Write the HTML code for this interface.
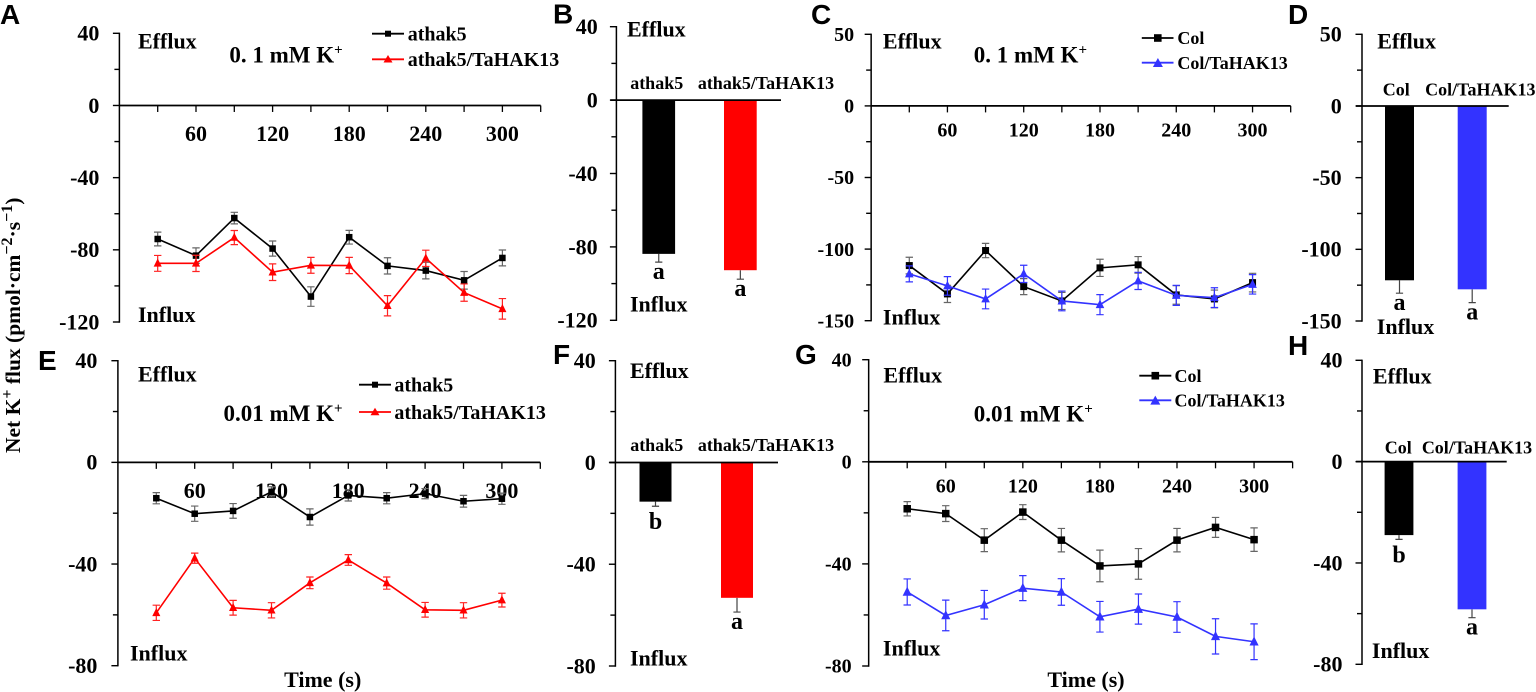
<!DOCTYPE html>
<html lang="en">
<head>
<meta charset="utf-8">
<title>Net K+ flux panels</title>
<style>
html,body{margin:0;padding:0;background:#fff;width:1536px;height:692px;overflow:hidden}
svg{display:block}
text{font-family:"Liberation Serif",serif;font-weight:700;fill:#000}
.plabel{font-family:"Liberation Sans",sans-serif;font-size:28px}
.note{font-size:22px}
.conc{font-size:23px}
.leg{font-size:20px}
.legs{font-size:18px}
.cat{font-size:18px}
</style>
</head>
<body>
<svg id="figure" width="1536" height="692" viewBox="0 0 1536 692" xmlns="http://www.w3.org/2000/svg">
  <text transform="translate(20,453) rotate(-90)" font-size="21.5">Net K<tspan dy="-8" font-size="16">+</tspan><tspan dy="8"> flux (pmol·cm</tspan><tspan dy="-8" font-size="16">−2</tspan><tspan dy="8">·s</tspan><tspan dy="-8" font-size="16">−1</tspan><tspan dy="8">)</tspan></text>

  <g id="panel-a">
    <text class="plabel" x="0" y="24">A</text>
    <text class="note" x="138" y="48.5">Efflux</text>
    <text class="note" x="138" y="322">Influx</text>
    <text class="conc" x="229.4" y="62.5">0. 1 mM K<tspan dy="-8" font-size="15">+</tspan></text>
    <g>
      <line x1="372" x2="404" y1="33.7" y2="33.7" stroke="#000" stroke-width="1.8"/>
      <rect x="385" y="30.7" width="6" height="6" fill="#000"/>
      <text class="leg" x="407.7" y="40.5">athak5</text>
      <line x1="372" x2="404" y1="59.3" y2="59.3" stroke="#f00" stroke-width="1.8"/>
      <polygon points="388,55 392.5,62.5 383.5,62.5" fill="#f00"/>
      <text class="leg" x="407.7" y="66">athak5/TaHAK13</text>
    </g>
  </g>

  <g id="panel-b">
    <text class="plabel" x="553" y="23.7">B</text>
    <text class="note" x="627" y="36.5">Efflux</text>
    <text class="note" x="630" y="311.5">Influx</text>
    <text class="cat" x="656.7" y="89" text-anchor="middle">athak5</text>
    <text class="cat" x="766" y="89" text-anchor="middle">athak5/TaHAK13</text>
  </g>

  <g id="panel-c">
    <text class="plabel" x="811" y="24">C</text>
    <text class="note" x="882.9" y="48.5">Efflux</text>
    <text class="note" x="882.9" y="324.5">Influx</text>
    <text class="conc" x="973.7" y="62.5">0. 1 mM K<tspan dy="-8" font-size="15">+</tspan></text>
    <g>
      <line x1="1141.8" x2="1173.5" y1="38" y2="38" stroke="#000" stroke-width="1.8"/>
      <rect x="1154" y="34.2" width="7.6" height="7.6" fill="#000"/>
      <text class="legs" x="1177.4" y="44">Col</text>
      <line x1="1141.8" x2="1173.5" y1="62.7" y2="62.7" stroke="#3333ff" stroke-width="1.8"/>
      <polygon points="1157.9,58 1162.9,67 1152.9,67" fill="#3333ff"/>
      <text class="legs" x="1177.4" y="69">Col/TaHAK13</text>
    </g>
  </g>

  <g id="panel-d">
    <text class="plabel" x="1288" y="24">D</text>
    <text class="note" x="1377.3" y="48.5">Efflux</text>
    <text class="note" x="1376.8" y="334">Influx</text>
    <text class="cat" x="1396.3" y="95.5" text-anchor="middle">Col</text>
    <text class="cat" x="1480.3" y="95.5" text-anchor="middle">Col/TaHAK13</text>
  </g>

  <g id="panel-e">
    <text class="plabel" x="38" y="370">E</text>
    <text class="note" x="138" y="381.5">Efflux</text>
    <text class="note" x="130" y="660.5">Influx</text>
    <text class="conc" x="223.5" y="421">0.01 mM K<tspan dy="-8" font-size="15">+</tspan></text>
    <text class="note" x="322.7" y="687" text-anchor="middle">Time (s)</text>
    <g>
      <line x1="359" x2="391" y1="384.7" y2="384.7" stroke="#000" stroke-width="1.8"/>
      <rect x="372" y="381.7" width="6" height="6" fill="#000"/>
      <text class="leg" x="394.4" y="391.5">athak5</text>
      <line x1="359" x2="391" y1="412" y2="412" stroke="#f00" stroke-width="1.8"/>
      <polygon points="375,407.7 379.5,415.2 370.5,415.2" fill="#f00"/>
      <text class="leg" x="394.4" y="419">athak5/TaHAK13</text>
    </g>
  </g>

  <g id="panel-f">
    <text class="plabel" x="553" y="364">F</text>
    <text class="note" x="630" y="378">Efflux</text>
    <text class="note" x="630" y="665.5">Influx</text>
    <text class="cat" x="656.7" y="451" text-anchor="middle">athak5</text>
    <text class="cat" x="766" y="451" text-anchor="middle">athak5/TaHAK13</text>
  </g>

  <g id="panel-g">
    <text class="plabel" x="795" y="364">G</text>
    <text class="note" x="883.4" y="382.5">Efflux</text>
    <text class="note" x="882.9" y="655.5">Influx</text>
    <text class="conc" x="973.7" y="421.5">0.01 mM K<tspan dy="-8" font-size="15">+</tspan></text>
    <text class="note" x="1086" y="687" text-anchor="middle">Time (s)</text>
    <g>
      <line x1="1139.3" x2="1171.3" y1="375.7" y2="375.7" stroke="#000" stroke-width="1.8"/>
      <rect x="1151.5" y="371.9" width="7.6" height="7.6" fill="#000"/>
      <text class="legs" x="1174.5" y="382">Col</text>
      <line x1="1139.3" x2="1171.3" y1="400.3" y2="400.3" stroke="#3333ff" stroke-width="1.8"/>
      <polygon points="1155.3,395.6 1160.3,404.6 1150.3,404.6" fill="#3333ff"/>
      <text class="legs" x="1174.5" y="406.5">Col/TaHAK13</text>
    </g>
  </g>

  <g id="panel-h">
    <text class="plabel" x="1288" y="355">H</text>
    <text class="note" x="1372.9" y="383.5">Efflux</text>
    <text class="note" x="1371.9" y="658">Influx</text>
    <text class="cat" x="1398.3" y="453.5" text-anchor="middle">Col</text>
    <text class="cat" x="1477" y="453.5" text-anchor="middle">Col/TaHAK13</text>
  </g>
</svg>

<script>
// ---- data ----
const timePoints = [30, 60, 90, 120, 150, 180, 210, 240, 270, 300];
const xTickValues = [30, 60, 90, 120, 150, 180, 210, 240, 270, 300, 330];
const xTickLabels = [60, 120, 180, 240, 300];

const yTicksAB = [40, 0, -40, -80, -120];
const yTicksCD = [50, 0, -50, -100, -150];
const yTicksEFGH = [40, 0, -40, -80];

const panelAAthak5 = [-74, -83.2, -62.4, -79.3, -105.9, -73, -88.9, -91.5, -96.9, -84.5];
const panelAAthak5Err = [3.8, 4.3, 3.2, 4.2, 5.4, 3.8, 4.5, 4.6, 4.9, 4.4];
const panelATransgenic = [-87.5, -87.5, -73.2, -92.4, -88.6, -88.7, -111, -84.7, -103.7, -112.7];
const panelATransgenicErr = [4.4, 4.5, 3.9, 4.6, 4.4, 4.5, 5.6, 4.5, 4.8, 5.7];

const panelCCol = [-111.5, -131.3, -101, -126.2, -136.2, -113.1, -111, -132, -134.8, -123.4];
const panelCColErr = [5.8, 6, 5, 5.6, 6, 6, 5.8, 6.5, 6.2, 6.5];
const panelCTransgenic = [-117.3, -125.7, -134.8, -117.3, -136.2, -138.8, -122.2, -132.3, -133.9, -124.6];
const panelCTransgenicErr = [5.6, 6.5, 6.9, 6, 6.9, 7, 6, 7, 6.9, 6.8];

const panelEAthak5 = [-14.1, -20.2, -19.1, -11.6, -21.5, -13, -14.1, -12.3, -15.3, -14.3];
const panelEAthak5Err = [2.2, 3, 2.9, 2, 3.2, 2.2, 2.2, 2, 2.3, 2.2];
const panelETransgenic = [-59.2, -37.7, -57.2, -58.2, -47.4, -38.4, -47.5, -58, -58.2, -54.2];
const panelETransgenicErr = [3, 2, 2.9, 3, 2.3, 2.1, 2.4, 2.9, 3, 2.7];

const panelGCol = [-18.4, -20.3, -30.7, -19.7, -30.7, -40.8, -40, -30.7, -25.7, -30.5];
const panelGColErr = [2.8, 3.1, 4.5, 2.9, 4.6, 6.2, 6, 4.6, 3.9, 4.6];
const panelGTransgenic = [-51, -60.2, -56, -49.5, -51, -60.7, -57.7, -60.8, -68.4, -70.5];
const panelGTransgenicErr = [5.1, 6, 5.6, 4.9, 5.2, 6, 5.9, 6, 6.9, 7];

const panelBValues = [-83.8, -92.7];
const panelBErrors = [4.5, 4.9];
const panelBLetters = ['a', 'a'];

const panelDValues = [-121.6, -127.9];
const panelDErrors = [9, 9.3];
const panelDLetters = ['a', 'a'];

const panelFValues = [-15.4, -53.2];
const panelFErrors = [1.8, 5.6];
const panelFLetters = ['b', 'a'];

const panelHValues = [-29, -58.3];
const panelHErrors = [1.7, 3.3];
const panelHLetters = ['b', 'a'];

// ---- helpers ----
const SVG_NS = 'http://www.w3.org/2000/svg';
function make(tag, attrs) {
  const node = document.createElementNS(SVG_NS, tag);
  for (const key in attrs) node.setAttribute(key, attrs[key]);
  return node;
}
function yScaleFor(g) {
  return function (v) {
    const top = Math.max.apply(null, g.yTicks);
    const bottom = Math.min.apply(null, g.yTicks);
    return g.yTop + (top - v) / (top - bottom) * (g.yBottom - g.yTop);
  };
}
function drawYAxis(parent, g, y) {
  const top = Math.max.apply(null, g.yTicks);
  const bottom = Math.min.apply(null, g.yTicks);
  const axis = make('line', {x1: g.axisX, x2: g.axisX, y1: g.yTop - 0.7, y2: g.yBottom + 0.7, stroke: '#000', 'stroke-width': 1.5});
  
  
  parent.appendChild(axis);
  const majorStep = (top - bottom) / (g.yTicks.length - 1);
  for (let v = top; v >= bottom; v -= majorStep / 2) {
    const isMajor = g.yTicks.indexOf(v) >= 0;
    const tick = make('line', {x1: g.axisX - (isMajor ? 6.5 : 5), x2: g.axisX, y1: y(v), y2: y(v), stroke: '#000', 'stroke-width': 1.4});
    
    
    parent.appendChild(tick);
  }
  g.yTicks.forEach(function (v) {
    const label = make('text', {x: g.axisX - g.labelGap, y: y(v) + g.tickFont * 0.335, 'text-anchor': 'end', 'font-size': g.tickFont});
    
    
    label.textContent = v;
    parent.appendChild(label);
  });
}
function drawLinePanel(id, g, seriesList) {
  const parent = document.getElementById(id);
  const y = yScaleFor(g);
  const x = function (t) { return g.axisX + t / 30 * g.xStep; };
  drawYAxis(parent, g, y);
  const zero = make('line', {x1: g.axisX, x2: x(330), y1: y(0), y2: y(0), stroke: '#000', 'stroke-width': 1.8});
  
  
  parent.appendChild(zero);
  xTickValues.forEach(function (t) {
    const tick = make('line', {x1: x(t), x2: x(t), y1: y(0), y2: y(0) + 6.5, stroke: '#000', 'stroke-width': 1.3});
    
    
    parent.appendChild(tick);
  });
  xTickLabels.forEach(function (t) {
    const label = make('text', {x: x(t), y: y(0) + g.xLabelDrop, 'text-anchor': 'middle', 'font-size': g.xFont});
    
    
    label.textContent = t;
    parent.appendChild(label);
  });
  seriesList.forEach(function (s) {
    const group = make('g', {});
    
    
    const pts = timePoints.map(function (t, i) { return x(t) + ',' + y(s.values[i]); }).join(' ');
    const path = make('polyline', {points: pts, fill: 'none', stroke: s.color, 'stroke-width': 1.6});
    
    
    group.appendChild(path);
    timePoints.forEach(function (t, i) {
      const cx = x(t), cy = y(s.values[i]);
      const hi = y(s.values[i] + s.errors[i]), lo = y(s.values[i] - s.errors[i]);
      const err = make('path', {d: 'M' + (cx - 3.7) + ' ' + hi + 'H' + (cx + 3.7) + 'M' + cx + ' ' + hi + 'V' + lo + 'M' + (cx - 3.7) + ' ' + lo + 'H' + (cx + 3.7), fill: 'none', stroke: s.errColor, 'stroke-width': 1.2});
      
      
      group.appendChild(err);
      const r = g.markerSize / 2;
      let mark;
      if (s.marker === 'square') {
        mark = make('rect', {x: cx - r, y: cy - r, width: r * 2, height: r * 2, fill: s.color});
      } else {
        const w = r + 0.8;
        mark = make('polygon', {points: cx + ',' + (cy - r - 1.6) + ' ' + (cx + w) + ',' + (cy + r) + ' ' + (cx - w) + ',' + (cy + r), fill: s.color});
      }
      
      
      group.appendChild(mark);
    });
    parent.appendChild(group);
  });
}
function drawBarPanel(id, g, values, errors, letters) {
  const parent = document.getElementById(id);
  const y = yScaleFor(g);
  drawYAxis(parent, g, y);
  values.forEach(function (v, i) {
    const cx = g.barLefts[i] + g.barWidth / 2;
    const low = y(v - errors[i]);
    const err = make('path', {d: 'M' + cx + ' ' + y(v) + 'V' + low + 'M' + (cx - 3.6) + ' ' + low + 'H' + (cx + 3.6), fill: 'none', stroke: '#444', 'stroke-width': 1.2});
    
    
    parent.appendChild(err);
    const bar = make('rect', {x: g.barLefts[i], y: y(0), width: g.barWidth, height: y(v) - y(0), fill: g.colors[i]});
    
    
    parent.appendChild(bar);
    const letter = make('text', {x: cx, y: low + (letters[i] === 'b' ? 23 : 17), 'text-anchor': 'middle', 'font-size': 24});
    
    
    letter.textContent = letters[i];
    parent.appendChild(letter);
  });
  const zero = make('line', {x1: g.axisX - 6, x2: g.xEnd, y1: y(0), y2: y(0), stroke: '#000', 'stroke-width': 1.8});
  
  
  parent.appendChild(zero);
}

// ---- panels ----
drawLinePanel('panel-a',
  {axisX: 119.4, xStep: 38.3, yTop: 33.3, yBottom: 322, yTicks: yTicksAB, labelGap: 20, tickFont: 22, xFont: 22, xLabelDrop: 35.5, markerSize: 6.5},
  [{name: 'series-athak5', values: panelAAthak5, errors: panelAAthak5Err, color: '#000', errColor: '#666', marker: 'square'},
   {name: 'series-athak5-tahak13', values: panelATransgenic, errors: panelATransgenicErr, color: '#f00', errColor: '#f22', marker: 'triangle'}]);

drawLinePanel('panel-c',
  {axisX: 871.15, xStep: 38.14, yTop: 34.3, yBottom: 320.7, yTicks: yTicksCD, labelGap: 17, tickFont: 20, xFont: 20, xLabelDrop: 30.5, markerSize: 7},
  [{name: 'series-col', values: panelCCol, errors: panelCColErr, color: '#000', errColor: '#666', marker: 'square'},
   {name: 'series-col-tahak13', values: panelCTransgenic, errors: panelCTransgenicErr, color: '#3333ff', errColor: '#3333ff', marker: 'triangle'}]);

drawLinePanel('panel-e',
  {axisX: 117.9, xStep: 38.4, yTop: 360.7, yBottom: 665.7, yTicks: yTicksEFGH, labelGap: 20.5, tickFont: 22, xFont: 22, xLabelDrop: 35.5, markerSize: 6.5},
  [{name: 'series-athak5', values: panelEAthak5, errors: panelEAthak5Err, color: '#000', errColor: '#666', marker: 'square'},
   {name: 'series-athak5-tahak13', values: panelETransgenic, errors: panelETransgenicErr, color: '#f00', errColor: '#f22', marker: 'triangle'}]);

drawLinePanel('panel-g',
  {axisX: 868.67, xStep: 38.54, yTop: 359.7, yBottom: 666, yTicks: yTicksEFGH, labelGap: 17, tickFont: 20, xFont: 20, xLabelDrop: 30.5, markerSize: 7.5},
  [{name: 'series-col', values: panelGCol, errors: panelGColErr, color: '#000', errColor: '#666', marker: 'square'},
   {name: 'series-col-tahak13', values: panelGTransgenic, errors: panelGTransgenicErr, color: '#3333ff', errColor: '#3333ff', marker: 'triangle'}]);

drawBarPanel('panel-b',
  {axisX: 616.4, xEnd: 781, yTop: 26.7, yBottom: 320.3, yTicks: yTicksAB, labelGap: 18.7, tickFont: 22, barLefts: [642.4, 724], barWidth: 32.7, colors: ['#000', '#f00']},
  panelBValues, panelBErrors, panelBLetters);

drawBarPanel('panel-d',
  {axisX: 1362, xEnd: 1508.7, yTop: 34.3, yBottom: 321, yTicks: yTicksCD, labelGap: 20.3, tickFont: 22, barLefts: [1385, 1457.7], barWidth: 29, colors: ['#000', '#3333ff']},
  panelDValues, panelDErrors, panelDLetters);

drawBarPanel('panel-f',
  {axisX: 615.4, xEnd: 778, yTop: 360.7, yBottom: 666, yTicks: yTicksEFGH, labelGap: 19.6, tickFont: 22, barLefts: [639.5, 721], barWidth: 32, colors: ['#000', '#f00']},
  panelFValues, panelFErrors, panelFLetters);

drawBarPanel('panel-h',
  {axisX: 1362, xEnd: 1506.7, yTop: 360.3, yBottom: 664.3, yTicks: yTicksEFGH, labelGap: 19.5, tickFont: 22, barLefts: [1384.6, 1457.6], barWidth: 28.8, colors: ['#000', '#3333ff']},
  panelHValues, panelHErrors, panelHLetters);
</script>
</body>
</html>
